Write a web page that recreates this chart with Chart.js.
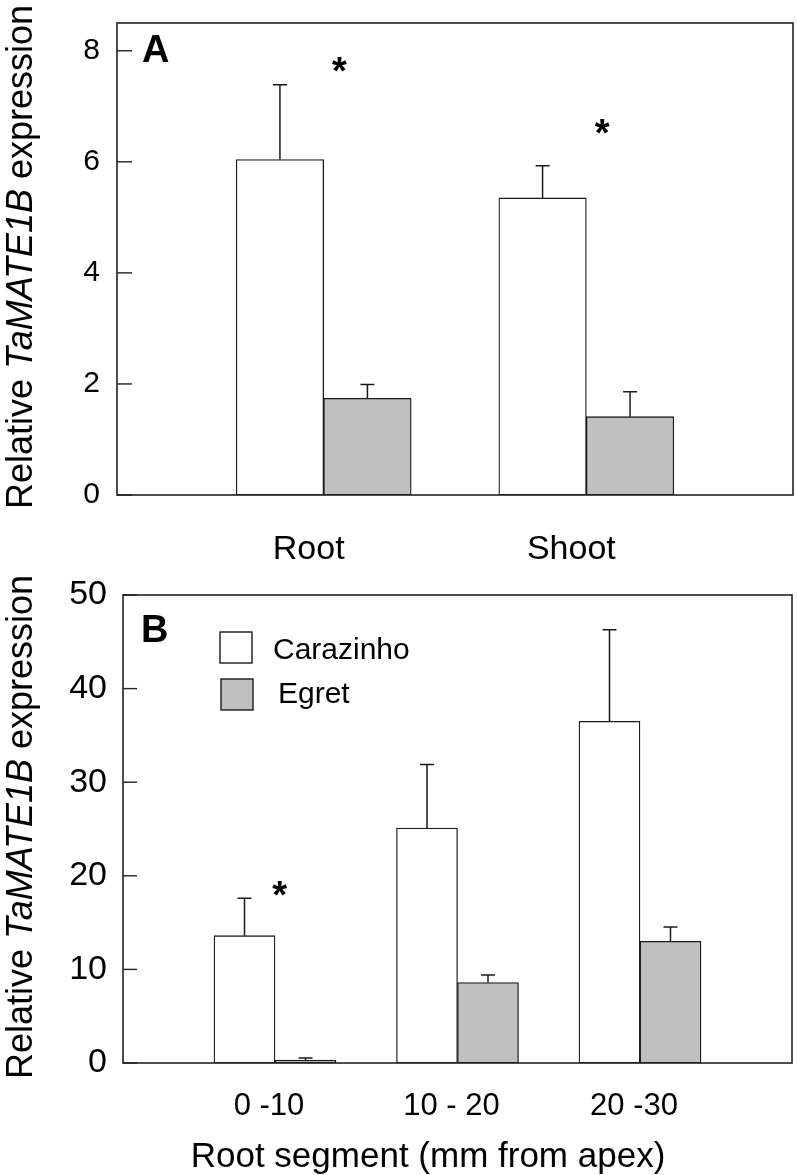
<!DOCTYPE html>
<html>
<head>
<meta charset="utf-8">
<script src="https://cdn.jsdelivr.net/npm/chart.js@4/dist/chart.umd.min.js"></script>
<style>
  body { margin: 0; background: #fff; width: 797px; height: 1175px; position: relative; overflow: hidden; }
  canvas { position: absolute; left: 0; }
  #chartA { top: 0; }
  #chartB { top: 560px; }
</style>
</head>
<body>
<canvas id="chartA" width="797" height="560"></canvas>
<canvas id="chartB" width="797" height="615"></canvas>
<script>
const FONT = "'Liberation Sans', Arial, sans-serif";
const seriesNames = ["Carazinho", "Egret"];

// panel A - tissue
const tissues = ["Root", "Shoot"];
const caraA = [6.04, 5.35];
const caraErrA = [1.35, 0.58];
const egretA = [1.74, 1.41];
const egretErrA = [0.25, 0.45];
const starsA = [[0.06, 7.8], [1.06, 6.68]]; // [x, y] in data units
const yTicksA = [0, 2, 4, 6, 8];

// panel B - root segments
const segments = ["0 -10", "10 - 20", "20 -30"];
const caraB = [13.6, 25.1, 36.5];
const caraErrB = [4.0, 6.8, 9.8];
const egretB = [0.3, 8.6, 13.0];
const egretErrB = [0.24, 0.79, 1.53];
const starsB = [[0.025, 19.0]];
const yTicksB = [0, 10, 20, 30, 40, 50];

Chart.defaults.font.family = FONT;
Chart.defaults.color = "#000";

function drawYTitle(ctx, x, cy, size) {
  const parts = [
    ["Relative ", ""],
    ["TaMATE1B", "italic "],
    [" expression", ""]
  ];
  ctx.save();
  ctx.translate(x, cy);
  ctx.rotate(-Math.PI / 2);
  ctx.fillStyle = "#000";
  ctx.textBaseline = "alphabetic";
  let total = 0;
  parts.forEach(p => {
    ctx.font = p[1] + size + "px " + FONT;
    total += ctx.measureText(p[0]).width;
  });
  let pos = -total / 2;
  parts.forEach(p => {
    ctx.font = p[1] + size + "px " + FONT;
    ctx.textAlign = "left";
    ctx.fillText(p[0], pos, 0);
    pos += ctx.measureText(p[0]).width;
  });
  ctx.restore();
}

const panelPlugin = {
  id: "panel",
  afterDatasetsDraw(chart) {
    const o = chart.options.plugins.panel;
    const ctx = chart.ctx;
    const area = chart.chartArea;
    const xs = chart.scales.x, ys = chart.scales.y;

    // error bars (upper only)
    ctx.save();
    ctx.strokeStyle = "#1a1a1a";
    ctx.lineWidth = 1.5;
    chart.data.datasets.forEach((ds, i) => {
      chart.getDatasetMeta(i).data.forEach((bar, j) => {
        const top = ys.getPixelForValue(ds.data[j].y + ds.errors[j]);
        ctx.beginPath();
        ctx.moveTo(bar.x, bar.y);
        ctx.lineTo(bar.x, top);
        ctx.moveTo(bar.x - 7, top);
        ctx.lineTo(bar.x + 7, top);
        ctx.stroke();
      });
    });

    // frame
    ctx.strokeStyle = "#222";
    ctx.lineWidth = 1.6;
    ctx.strokeRect(area.left, area.top, area.right - area.left, area.bottom - area.top);

    // inward tick marks
    ctx.lineWidth = 1.4;
    ys.ticks.forEach(t => {
      const y = ys.getPixelForValue(t.value);
      ctx.beginPath();
      ctx.moveTo(area.left, y);
      ctx.lineTo(area.left + o.tickLen, y);
      ctx.stroke();
    });

    // significance stars
    ctx.fillStyle = "#000";
    ctx.font = "bold 38px " + FONT;
    ctx.textAlign = "center";
    ctx.textBaseline = "alphabetic";
    o.stars.forEach(s => {
      ctx.fillText("*", xs.getPixelForValue(s[0]), ys.getPixelForValue(s[1]) + 0.59 * 38);
    });

    // panel letter
    ctx.font = "bold 38px " + FONT;
    ctx.textAlign = "left";
    ctx.fillText(o.letter, o.letterX, o.letterY);

    // legend
    if (o.legend) {
      ctx.font = "30px " + FONT;
      chart.data.datasets.forEach((ds, i) => {
        const L = o.legend[i];
        ctx.fillStyle = ds.backgroundColor;
        ctx.fillRect(L[0], L[1], 32, 31);
        ctx.strokeStyle = "#1a1a1a";
        ctx.lineWidth = 1.4;
        ctx.strokeRect(L[0], L[1], 32, 31);
        ctx.fillStyle = "#000";
        ctx.fillText(ds.label, L[2], L[3]);
      });
    }

    // x title
    if (o.xTitle) {
      ctx.font = "35px " + FONT;
      ctx.textAlign = "center";
      ctx.fillText(o.xTitle, o.xTitleX, o.xTitleY);
    }

    drawYTitle(ctx, 32, o.yTitleY, 36);
    ctx.restore();
  }
};

function makePanel(id, p) {
  const canvas = document.getElementById(id);
  const W = canvas.width, H = canvas.height;
  return new Chart(canvas, {
    type: "bar",
    data: {
      datasets: [
        {
          label: seriesNames[0],
          data: p.cara.map((v, i) => ({ x: i, y: v })),
          errors: p.caraErr,
          backgroundColor: "#ffffff"
        },
        {
          label: seriesNames[1],
          data: p.egret.map((v, i) => ({ x: i, y: v })),
          errors: p.egretErr,
          backgroundColor: "#c0c0c0"
        }
      ]
    },
    options: {
      responsive: false,
      animation: false,
      devicePixelRatio: 1,
      layout: { padding: { left: 0, top: p.top, right: W - p.right, bottom: 0 } },
      datasets: {
        bar: {
          barThickness: p.barThickness,
          borderColor: "#1a1a1a",
          borderWidth: 1.3,
          borderSkipped: false
        }
      },
      scales: {
        x: {
          type: "linear",
          offset: false,
          min: p.xMin,
          max: p.xMax,
          grid: { display: false, drawTicks: false, offset: false },
          border: { display: false },
          afterBuildTicks: s => { s.ticks = p.categories.map((c, i) => ({ value: i })); },
          afterFit: s => {
            s.height = H - p.bottom;
            s.paddingLeft = 0;
            s.paddingRight = 0;
          },
          ticks: {
            font: { size: p.catFont },
            padding: p.catPad,
            labelOffset: p.labelOffset,
            maxRotation: 0,
            autoSkip: false,
            callback: v => p.categories[v]
          }
        },
        y: {
          min: 0,
          max: p.yMax,
          grid: { display: false, drawTicks: false },
          border: { display: false },
          afterBuildTicks: s => { s.ticks = p.yTicks.map(v => ({ value: v })); },
          afterFit: s => {
            s.width = p.left;
            s.paddingTop = 0;
            s.paddingBottom = 0;
          },
          ticks: {
            font: { size: p.tickFont },
            padding: p.tickPad,
            callback: v => String(v)
          }
        }
      },
      plugins: {
        legend: { display: false },
        tooltip: { enabled: false },
        panel: {
          tickLen: p.tickLen,
          stars: p.stars,
          letter: p.letter,
          letterX: p.letterX,
          letterY: p.letterY,
          legend: p.legend,
          xTitle: p.xTitle,
          xTitleX: p.xTitleX,
          xTitleY: p.xTitleY,
          yTitleY: p.yTitleY
        }
      }
    },
    plugins: [panelPlugin]
  });
}

makePanel("chartA", {
  categories: tissues,
  cara: caraA, caraErr: caraErrA,
  egret: egretA, egretErr: egretErrA,
  stars: starsA,
  yTicks: yTicksA, yMax: 8.5,
  xMin: -0.787, xMax: 1.787,
  left: 117, top: 23, right: 793, bottom: 495,
  barThickness: 87.5,
  tickFont: 30, tickPad: 17, tickLen: 15,
  catFont: 34, catPad: 34, labelOffset: -15,
  letter: "A", letterX: 142, letterY: 62,
  yTitleY: 257
});

makePanel("chartB", {
  categories: segments,
  cara: caraB, caraErr: caraErrB,
  egret: egretB, egretErr: egretErrB,
  stars: starsB,
  yTicks: yTicksB, yMax: 50,
  xMin: -0.833, xMax: 2.833,
  left: 123, top: 35, right: 792, bottom: 503,
  barThickness: 61,
  tickFont: 34, tickPad: 16, tickLen: 14,
  catFont: 31, catPad: 25, labelOffset: -6,
  letter: "B", letterX: 141, letterY: 82,
  legend: [[220, 72, 273, 99], [221, 119, 278, 143]],
  xTitle: "Root segment (mm from apex)", xTitleX: 428, xTitleY: 607,
  yTitleY: 267
});
</script>
</body>
</html>
